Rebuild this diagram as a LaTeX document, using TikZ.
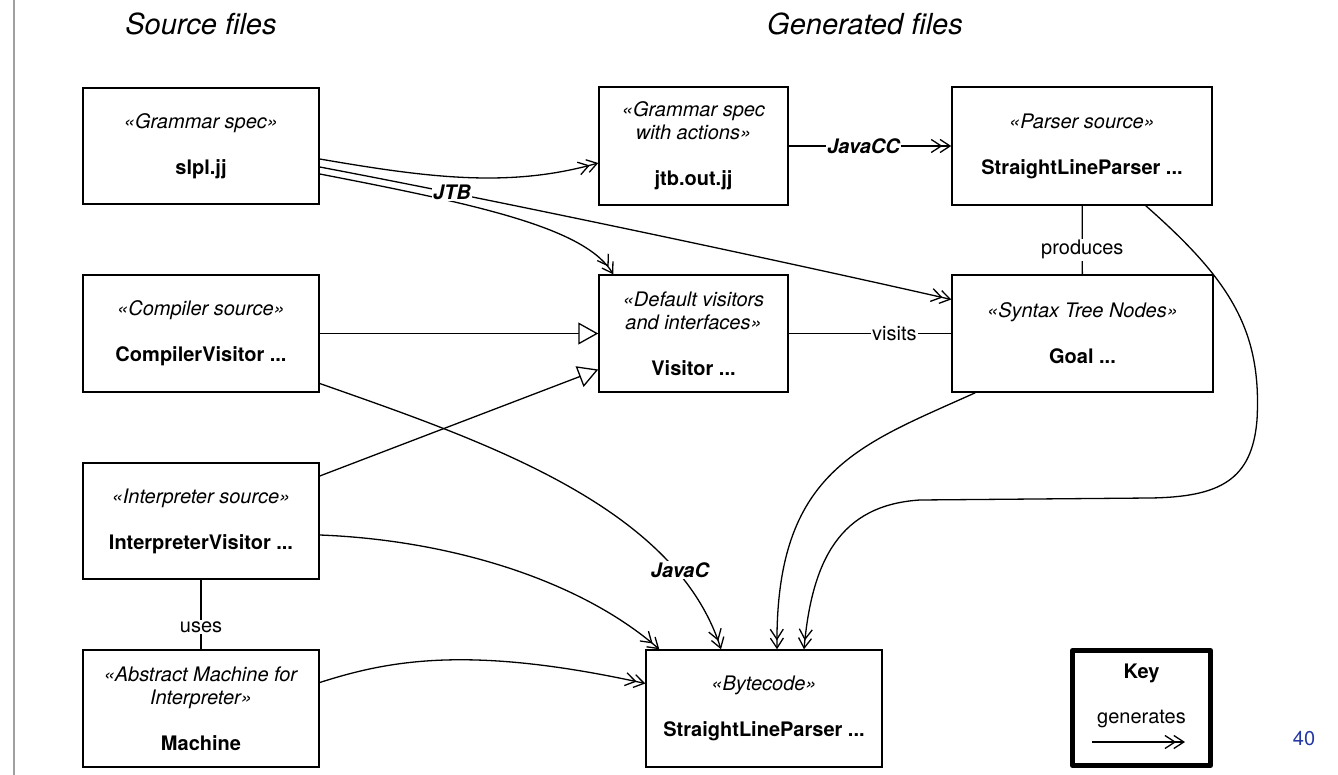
\documentclass[tikz,border=0pt]{standalone}
\usepackage{fontspec}
\setmainfont{TeX Gyre Heros}
\usetikzlibrary{arrows.meta,calc}
\definecolor{pagenum}{RGB}{35,55,165}
\newcommand\bodyfont{\fontsize{20}{23}\selectfont}
\newcommand\titlefont{\fontsize{29}{34}\selectfont\itshape}
\begin{document}
\begin{tikzpicture}[x=1pt,y=-1pt,
  box/.style={draw, line width=1.5pt, align=center, inner sep=0pt, minimum height=117pt, font=\bodyfont},
  conn/.style={line width=1.3pt},
  gen/.style={conn, -{Straight Barb[length=10pt,width=13pt,sep=-3pt]Straight Barb[length=10pt,width=13pt]}},
  realize/.style={conn, -{Triangle[length=20pt,width=22pt,fill=white]}},
  lbl/.style={font=\bodyfont, fill=white, inner sep=1.5pt},
  lblbi/.style={lbl, font=\bodyfont\bfseries\itshape},
]
\path[use as bounding box] (0,0) rectangle (1338,775);

% slide margin rule
\draw[gray!75, line width=1.3pt] (14,0) -- (14,775);

% column headings
\node[font=\titlefont] (srct) at (201,24) {Source files};
\node[font=\titlefont] (gent) at (865,24) {Generated files};

% artefacts
\node[box, minimum width=236pt, minimum height=116pt] (slpl) at (201,146)
  {\textit{«Grammar spec»}\\[23pt]\textbf{slpl.jj}};
\node[box, minimum width=189pt, minimum height=118pt] (jtb) at (693.5,146)
  {\textit{«Grammar spec}\\\textit{with actions»}\\[23pt]\textbf{jtb.out.jj}};
\node[box, minimum width=260pt, minimum height=118pt] (parser) at (1082,146)
  {\textit{«Parser source»}\\[23pt]\textbf{StraightLineParser ...}};
\node[box, minimum width=236pt] (compiler) at (201,333.5)
  {\textit{«Compiler source»}\\[23pt]\textbf{CompilerVisitor ...}};
\node[box, minimum width=189pt] (visitor) at (693.5,333.5)
  {\textit{«Default visitors}\\\textit{and interfaces»}\\[23pt]\textbf{Visitor ...}};
\node[box, minimum width=261pt] (syntax) at (1082.5,333.5)
  {\textit{«Syntax Tree Nodes»}\\[23pt]\textbf{Goal ...}};
\node[box, minimum width=236pt, minimum height=116pt] (interp) at (201,521)
  {\textit{«Interpreter source»}\\[23pt]\textbf{InterpreterVisitor ...}};
\node[box, minimum width=236pt] (machine) at (201,708.5)
  {\textit{«Abstract Machine for}\\\textit{Interpreter»}\\[23pt]\textbf{Machine}};
\node[box, minimum width=236pt] (bytecode) at (764,708.5)
  {\textit{«Bytecode»}\\[23pt]\textbf{StraightLineParser ...}};

% JTB outputs
\draw[gen] ($(slpl.east)+(0,13)$) .. controls (430,178) and (510,188) .. ($(jtb.west)+(0,17)$);
\draw[gen] ($(slpl.east)+(0,21)$) .. controls (520,205) and (800,265) .. ($(syntax.west)+(0,-34)$);
\draw[gen] ($(slpl.east)+(0,28)$) .. controls (480,205) and (585,228) .. ($(visitor.north west)+(15,0)$);
\node[lblbi] (jtblbl) at (452,192) {JTB};

% JavaCC and structural relations
\draw[gen] (jtb) -- node[lblbi,pos=.46] (javacc) {JavaCC} (parser);
\draw[conn] (parser) -- node[lbl,pos=.64] (produces) {produces} (syntax);
\draw[conn] (visitor) -- node[lbl,pos=.65] (visits) {visits} (syntax);
\draw[realize] (compiler) -- (visitor);
\draw[realize] ($(interp.east)+(0,-45)$) -- ($(visitor.west)+(0,36)$);
\draw[conn] (interp) -- node[lbl,pos=.68] (uses) {uses} (machine);

% JavaC compilation into bytecode
\draw[gen] ($(compiler.east)+(0,50)$) .. controls (480,440) and (675,505) .. ($(bytecode.north)+(-43,0)$);
\node[lblbi] (javac) at (680,570) {JavaC};
\draw[gen] ($(interp.east)+(0,14)$) .. controls (450,540) and (580,580) .. ($(bytecode.north west)+(14,0)$);
\draw[gen] ($(machine.east)+(0,-26)$) .. controls (390,660) and (470,645) .. ($(bytecode.west)+(0,-25)$);
\draw[gen] ($(syntax.south west)+(24,0)$) .. controls (860,445) and (775,470) .. ($(bytecode.north)+(13,0)$);
\draw[gen] ($(parser.south east)+(-67,0)$) .. controls (1230,280) and (1262,330) .. (1257,420)
  .. controls (1252,480) and (1220,497) .. (1150,498) -- (920,500)
  .. controls (840,505) and (812,560) .. ($(bytecode.north)+(40,0)$);

% key
\node[draw, line width=5pt, line join=round, minimum width=138pt, minimum height=115pt] (key) at (1141.5,708) {};
\node[font=\bodyfont\bfseries] (keyt) at (1141.5,673) {Key};
\node[font=\bodyfont] (keyg) at (1141.5,719) {generates};
\coordinate (ka) at (1092,742);
\coordinate (kb) at (1185,742);
\draw[gen] (ka) -- (kb);

% slide number
\node[font=\bodyfont, text=pagenum] (pgno) at (1304,739) {40};
\end{tikzpicture}
\end{document}
